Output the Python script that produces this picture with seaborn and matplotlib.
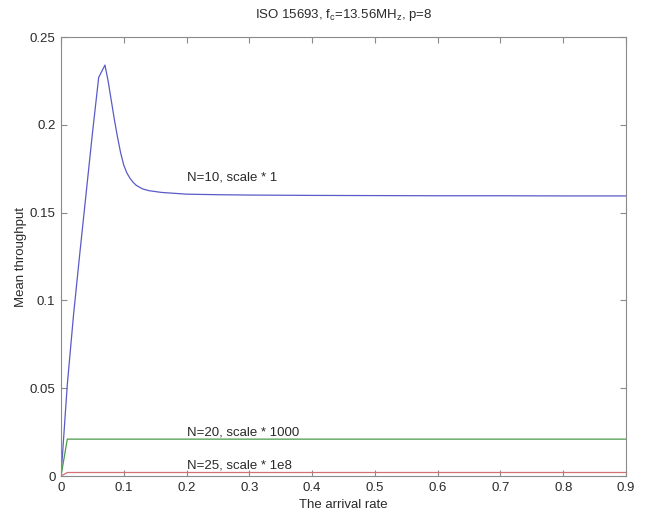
import matplotlib
matplotlib.use("Agg")
import matplotlib.pyplot as plt
import seaborn as sns
import pandas as pd

# Mean throughput vs. arrival rate for three tag populations
rate_n10 = [0.0, 0.01, 0.02, 0.03, 0.04, 0.05, 0.06, 0.07, 0.075, 0.08, 0.085,
            0.09, 0.095, 0.10, 0.105, 0.11, 0.115, 0.12, 0.13, 0.14, 0.15,
            0.16, 0.18, 0.20, 0.25, 0.30, 0.40, 0.50, 0.60, 0.70, 0.80, 0.90]
thr_n10 = [0.0, 0.052, 0.092, 0.127, 0.161, 0.195, 0.227, 0.234, 0.225, 0.214,
           0.203, 0.193, 0.184, 0.177, 0.1725, 0.1695, 0.1672, 0.1655, 0.1635,
           0.1625, 0.162, 0.1615, 0.161, 0.1605, 0.1602, 0.160, 0.1598,
           0.1597, 0.1596, 0.1596, 0.1595, 0.1595]

rate_n20 = [0.0, 0.01, 0.90]
thr_n20 = [0.0, 0.0210, 0.0210]      # scaled by 1000

rate_n25 = [0.0, 0.01, 0.90]
thr_n25 = [0.0, 0.0020, 0.0020]      # scaled by 1e8

curve_labels = ["N=10, scale * 1", "N=20, scale * 1000", "N=25, scale * 1e8"]
label_x = [0.2, 0.2, 0.2]
label_y = [0.170, 0.025, 0.0062]

xticks = [0, 0.1, 0.2, 0.3, 0.4, 0.5, 0.6, 0.7, 0.8, 0.9]
xtick_labels = ["0", "0.1", "0.2", "0.3", "0.4", "0.5", "0.6", "0.7", "0.8", "0.9"]
yticks = [0, 0.05, 0.1, 0.15, 0.2, 0.25]
ytick_labels = ["0", "0.05", "0.1", "0.15", "0.2", "0.25"]

sns.set_theme(style="white")
plt.rcParams["font.family"] = ["Liberation Sans", "DejaVu Sans"]
plt.rcParams["mathtext.fontset"] = "custom"
plt.rcParams["mathtext.rm"] = "Liberation Sans"

text_color = "#2a2a2a"
spine_color = "#8a8a8a"

fig = plt.figure(figsize=(6.45, 5.12), dpi=100)
ax = fig.add_axes([0.0946, 0.0703, 0.9705 - 0.0946, 0.9277 - 0.0703])

df10 = pd.DataFrame({"rate": rate_n10, "thr": thr_n10})
df20 = pd.DataFrame({"rate": rate_n20, "thr": thr_n20})
df25 = pd.DataFrame({"rate": rate_n25, "thr": thr_n25})

sns.lineplot(data=df10, x="rate", y="thr", ax=ax, color="#5a5ac8",
             lw=0.9, estimator=None, sort=False)
sns.lineplot(data=df20, x="rate", y="thr", ax=ax, color="#4a9a4a",
             lw=0.9, estimator=None, sort=False)
sns.lineplot(data=df25, x="rate", y="thr", ax=ax, color="#d47070",
             lw=0.9, estimator=None, sort=False)

for tx, ty, t in zip(label_x, label_y, curve_labels):
    ax.text(tx, ty, t, ha="left", va="center", fontsize=9.5, color=text_color)

ax.set_xlim(0, 0.9)
ax.set_ylim(0, 0.25)
ax.set_xticks(xticks)
ax.set_xticklabels(xtick_labels)
ax.set_yticks(yticks)
ax.set_yticklabels(ytick_labels)

ax.tick_params(direction="in", length=4, width=0.8, color=spine_color,
               labelsize=9.5, labelcolor=text_color,
               top=True, right=True, bottom=True, left=True, pad=4)
for s in ax.spines.values():
    s.set_visible(True)
    s.set_color(spine_color)
    s.set_linewidth(0.8)

ax.set_xlabel("The arrival rate", fontsize=9.5, color=text_color, labelpad=4)
ax.set_ylabel("Mean throughput", fontsize=9.5, color=text_color, labelpad=2)
ax.set_title(r"ISO 15693, f$_\mathrm{c}$=13.56MH$_\mathrm{z}$, p=8",
             fontsize=9.5, color=text_color, pad=14)

fig.savefig("out.png", dpi=100)
